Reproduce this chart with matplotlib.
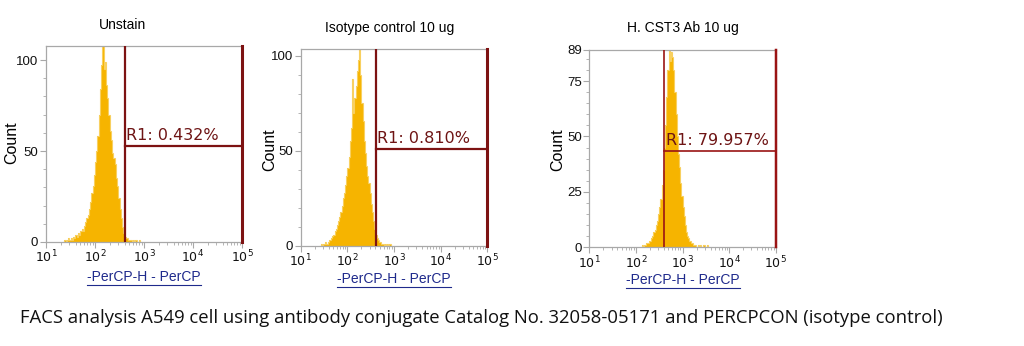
import matplotlib
matplotlib.use("Agg")
import matplotlib.pyplot as plt
import numpy as np
from matplotlib import font_manager
from matplotlib.lines import Line2D
from matplotlib.ticker import FixedLocator, NullFormatter

# ---- data (log10 channel start, bin width, counts) ----
titles = ["Unstain", "Isotype control 10 ug", "H. CST3 Ab 10 ug"]
gate_labels = ["R1: 0.432%", "R1: 0.810%", "R1: 79.957%"]
gate_low = [410, 410, 410]
gate_high = [1e5, 1e5, 1e5]
gate_level = [53, 51, 43.6]
y_max = [107.7, 103.5, 89]

bin_w = 0.025
p1_start = 1.35
p1_counts = [0, 1, 0, 1, 2, 1,
             2, 1, 3, 2, 4, 3, 5, 4,
             6, 7, 6, 9, 11, 13, 15, 18,
             22, 27, 31, 37, 44, 50, 58, 70,
             84, 97, 108, 95, 99, 86, 79, 70,
             61, 56, 49, 46, 43, 35, 31, 24,
             18, 13, 8, 5, 3, 2, 2, 1,
             1, 1, 0, 1, 0, 1, 0, 0, 1, 0]
p2_start = 1.4
p2_counts = [0, 1, 0, 1,
             1, 2, 1, 2, 3, 3, 4, 5,
             6, 8, 9, 11, 13, 15, 18, 21,
             25, 28, 32, 37, 41, 47, 55, 62,
             88, 70, 78, 84, 92, 98, 104, 90,
             75, 66, 55, 49, 42, 37, 33, 28,
             22, 18, 13, 9, 6, 4, 3, 2,
             2, 1, 1, 0, 1, 0, 1, 0, 1, 0]
p3_start = 2.1
p3_counts = [0, 1, 0, 1, 1, 2, 2, 3,
             3, 4, 5, 7, 8, 10, 12, 15,
             18, 22, 28, 35, 45, 55, 68, 80,
             89, 84, 88, 86, 80, 70, 60, 50,
             42, 36, 29, 23, 18, 14, 10, 7,
             5, 4, 3, 2, 2, 1, 1, 1,
             0, 1, 0, 1, 0, 0, 1, 0, 0, 1]

starts = [p1_start, p2_start, p3_start]
counts = [p1_counts, p2_counts, p3_counts]

major_y = [[0, 50, 100], [0, 50, 100], [0, 25, 50, 75, 89]]
minor_y = [np.arange(0, 101, 10), np.arange(0, 101, 10), np.arange(0, 90, 5)]

# axes boxes in pixels: left, right, top, bottom
W, H = 1024, 346
boxes = [(46, 242, 46, 242), (300.7, 487.3, 49.3, 246), (589.3, 775.7, 50, 247.3)]
title_pos = [(123, 25), (390, 28), (683, 28)]
xlabel_pos = [(144, 277), (394, 279), (683, 280)]
ylabel_pos = [(12, 143), (270, 150), (558, 150)]

fig = plt.figure(figsize=(W / 100, H / 100), dpi=100)
plt.rcParams['font.family'] = ['Liberation Sans', 'DejaVu Sans']

fill_col = '#f6b400'
edge_col = '#f8d060'
gate_col = '#7d1212'
frame_col = '#a8a8a8'

xlabels = []
for i in range(3):
    l, r, t, b = boxes[i]
    ax = fig.add_axes([l / W, (H - b) / H, (r - l) / W, (b - t) / H])
    edges = 10 ** (starts[i] + bin_w * np.arange(len(counts[i]) + 1))
    ax.stairs(counts[i], edges, fill=True, color=fill_col, zorder=2)
    ax.stairs(counts[i], edges, color=edge_col, lw=0.8, zorder=2)

    ax.set_xscale('log')
    ax.set_xlim(10, 1e5)
    ax.set_ylim(0, y_max[i])

    # gate
    lw = 1.6 if i < 2 else 1.2
    gc = gate_col if i < 2 else '#9a1414'
    ax.axvline(gate_low[i], color=gc, lw=lw, zorder=3)
    ax.axvline(gate_high[i], color=gc, lw=lw + 0.6, zorder=3, clip_on=False)
    ax.plot([gate_low[i], gate_high[i]], [gate_level[i], gate_level[i]], color=gc, lw=lw, zorder=3)
    ax.annotate(gate_labels[i], (gate_low[i], gate_level[i]), xytext=(1, 2),
                textcoords='offset points', color='#6e1414', fontsize=11.5,
                family='DejaVu Sans', ha='left', va='bottom', zorder=4)

    for s in ax.spines.values():
        s.set_color(frame_col)
        s.set_linewidth(0.9)
    ax.spines['right'].set_visible(False)

    ax.xaxis.set_major_locator(FixedLocator([10, 100, 1000, 1e4, 1e5]))
    ax.set_xticklabels([r'$10^{1}$', r'$10^{2}$', r'$10^{3}$', r'$10^{4}$', r'$10^{5}$'])
    minors = [m * 10 ** e for e in range(1, 5) for m in range(2, 10)]
    ax.xaxis.set_minor_locator(FixedLocator(minors))
    ax.xaxis.set_minor_formatter(NullFormatter())
    ax.yaxis.set_major_locator(FixedLocator(major_y[i]))
    ax.set_yticklabels([str(v) for v in major_y[i]])
    ax.yaxis.set_minor_locator(FixedLocator(minor_y[i]))
    ax.tick_params(which='major', length=4, width=0.8, color=frame_col,
                   labelsize=9.5, pad=1.5, labelcolor='#111111')
    ax.tick_params(which='minor', length=2, width=0.6, color=frame_col)
    ax.tick_params(axis='x', which='major', labelsize=9, pad=1)

    fig.text(title_pos[i][0] / W, 1 - title_pos[i][1] / H, titles[i],
             ha='center', va='center', fontsize=10)
    fig.text(ylabel_pos[i][0] / W, 1 - ylabel_pos[i][1] / H, 'Count',
             ha='center', va='center', rotation=90, fontsize=11.5)
    xl = fig.text(xlabel_pos[i][0] / W, 1 - xlabel_pos[i][1] / H, '-PerCP-H - PerCP',
                  ha='center', va='center', fontsize=10, color='#1f2a8c')
    xlabels.append(xl)

cap_family = 'Liberation Sans Narrow'
names = {f.name for f in font_manager.fontManager.ttflist}
if cap_family not in names:
    cap_family = 'Open Sans'
cap = fig.text(20 / W, 1 - 318 / H,
               'FACS analysis A549 cell using antibody conjugate Catalog No. '
               '32058-05171 and PERCPCON (isotype control)',
               ha='left', va='center', fontsize=13, family=cap_family, color='#111111')

fig.canvas.draw()
rend = fig.canvas.get_renderer()
wpx = cap.get_window_extent(rend).width
cap.set_fontsize(13 * 920 / wpx)

# underline the axis labels
for xl in xlabels:
    bb = xl.get_window_extent(rend)
    y = (bb.y0 - 0.5) / H
    fig.add_artist(Line2D([bb.x0 / W, bb.x1 / W], [y, y], color='#1f2a8c', lw=0.8))

fig.savefig('out.png', dpi=100)
